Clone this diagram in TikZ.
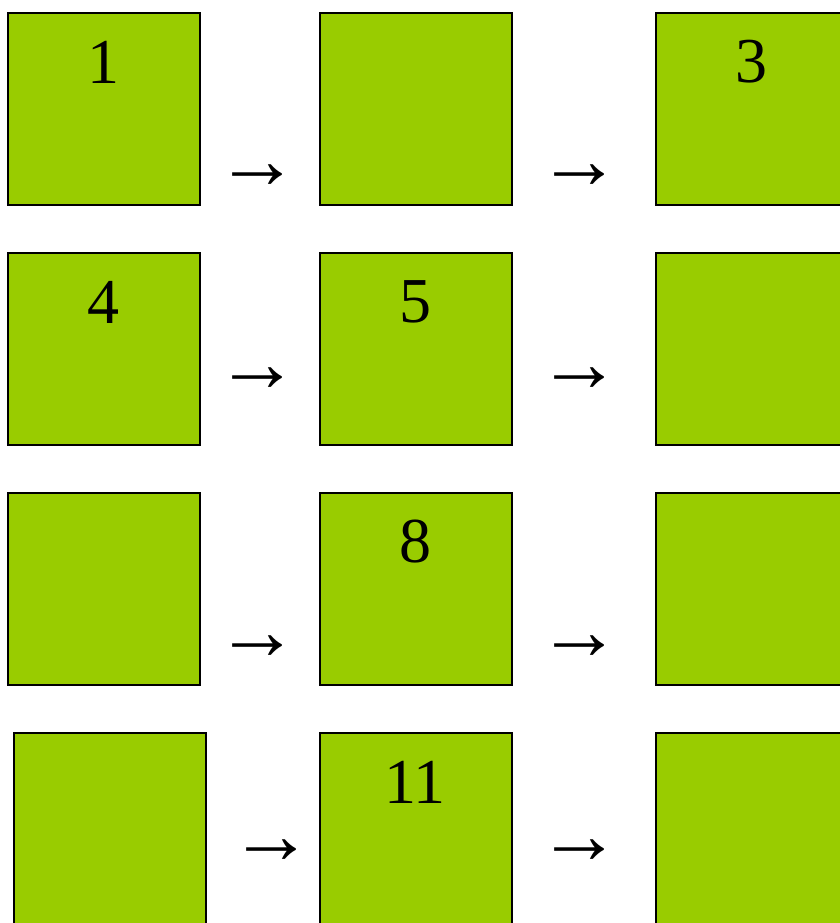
\documentclass[tikz,border=0pt]{standalone}
\usepackage{fontspec}
\setmainfont{Liberation Serif}
\usepackage{tikz}
\definecolor{BoxGreen}{HTML}{99CC00}
\tikzset{
  sqnode/.style={
    draw=black,fill=BoxGreen,line width=0.75pt,
    minimum width=96pt,minimum height=96pt,
    anchor=north west,inner sep=0pt
  },
  numnode/.style={
    font=\fontsize{32}{36}\selectfont,inner sep=0pt
  },
  arrnode/.style={
    font=\fontsize{42}{46}\selectfont,inner sep=0pt
  },
}
\begin{document}
\begin{tikzpicture}[x=0.5pt,y=-0.5pt]
  \useasboundingbox (0,0) rectangle (840,923);
  \clip (0,0) rectangle (840,923);
  \node[sqnode] (b1) at (7,12) {};
  \node[sqnode] (b2) at (319,12) {};
  \node[sqnode] (b3) at (655,12) {};
  \node[sqnode] (b4) at (7,252) {};
  \node[sqnode] (b5) at (319,252) {};
  \node[sqnode] (b6) at (655,252) {};
  \node[sqnode] (b7) at (7,492) {};
  \node[sqnode] (b8) at (319,492) {};
  \node[sqnode] (b9) at (655,492) {};
  \node[sqnode] (b10) at (13,732) {};
  \node[sqnode] (b11) at (319,732) {};
  \node[sqnode] (b12) at (655,732) {};
  \node[numnode] (n1) at (103,62) {1};
  \node[numnode] (n3) at (751,62) {3};
  \node[numnode] (n4) at (103,302) {4};
  \node[numnode] (n5) at (415,302) {5};
  \node[numnode] (n8) at (415,542) {8};
  \node[numnode] (n11) at (415,782) {11};
  \node[arrnode] (a1) at (257,177) {→};
  \node[arrnode] (a2) at (579,177) {→};
  \node[arrnode] (a3) at (257,380) {→};
  \node[arrnode] (a4) at (579,380) {→};
  \node[arrnode] (a5) at (257,648) {→};
  \node[arrnode] (a6) at (579,648) {→};
  \node[arrnode] (a7) at (271,852) {→};
  \node[arrnode] (a8) at (579,852) {→};
\end{tikzpicture}
\end{document}
